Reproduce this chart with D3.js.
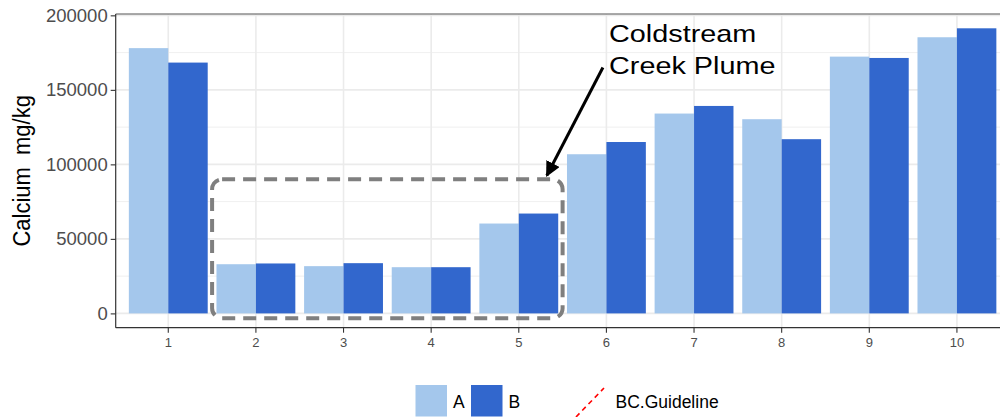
<!DOCTYPE html>
<html>
<head>
<meta charset="utf-8">
<script src="https://cdn.jsdelivr.net/npm/d3@7"></script>
<style>
  html, body { margin: 0; padding: 0; background: #fff; }
  svg { display: block; font-family: "Liberation Sans", Arial, sans-serif; }
</style>
</head>
<body>
<svg id="chart" width="1000" height="417"></svg>
<script>
// ---- data ----
const categories = ["1", "2", "3", "4", "5", "6", "7", "8", "9", "10"];
const seriesNames = ["A", "B"];
const valuesA = [178000, 33000, 31700, 31000, 60300, 106800, 134100, 130300, 172300, 185300];
const valuesB = [168300, 33500, 33700, 31000, 67000, 115000, 139200, 116900, 171400, 191300];
const yTicks = [0, 50000, 100000, 150000, 200000];
const yMinorTicks = [25000, 75000, 125000, 175000];
const seriesColors = ["#a4c7ec", "#3267cd"];
const legendExtra = "BC.Guideline";
const yTitle = "Calcium  mg/kg";
const annotationLines = ["Coldstream", "Creek Plume"];
// annotation in data units: box spans categories 2..5, arrow from label to box corner
const annoBox = { x0: 1.5, x1: 5.5, y0: -3200, y1: 90000 };
const annoArrow = { fromX: 5.96, fromY: 165000, toX: 5.32, toY: 92500 };
const annoText = { x: 6.03 };

// ---- layout ----
const svg = d3.select("#chart");
const pLeft = 115.7, pRight = 1009.5, pTop = 14, pBottom = 327.7;

const x = d3.scaleBand().domain(categories).range([pLeft, pRight])
  .paddingInner(0.1).paddingOuter(0.15);
const xSub = d3.scaleBand().domain(seriesNames).range([0, x.bandwidth()]);
// continuous position for annotations (category index -> px)
const xc = d3.scaleLinear().domain([1, 10])
  .range([x("1") + x.bandwidth() / 2, x("10") + x.bandwidth() / 2]);
const y = d3.scaleLinear().domain([-9600, 200900]).range([pBottom, pTop]);

const rows = categories.map((c, i) => ({ cat: c, A: valuesA[i], B: valuesB[i] }));

// grid
const grid = svg.append("g");
grid.selectAll(".ymin").data(yMinorTicks).join("line")
  .attr("x1", pLeft).attr("x2", pRight)
  .attr("y1", d => y(d)).attr("y2", d => y(d))
  .attr("stroke", "#ebebeb").attr("stroke-width", 0.8);
grid.selectAll(".ymaj").data(yTicks).join("line")
  .attr("x1", pLeft).attr("x2", pRight)
  .attr("y1", d => y(d)).attr("y2", d => y(d))
  .attr("stroke", "#ebebeb").attr("stroke-width", 1.6);
grid.selectAll(".xmaj").data(categories).join("line")
  .attr("x1", d => x(d) + x.bandwidth() / 2).attr("x2", d => x(d) + x.bandwidth() / 2)
  .attr("y1", pTop).attr("y2", pBottom)
  .attr("stroke", "#ebebeb").attr("stroke-width", 1.6);

// bars
const barG = svg.append("g");
rows.forEach(r => {
  seriesNames.forEach((s, si) => {
    barG.append("rect")
      .attr("x", x(r.cat) + xSub(s))
      .attr("width", xSub.bandwidth())
      .attr("y", y(r[s]))
      .attr("height", y(0) - y(r[s]))
      .attr("fill", seriesColors[si]);
  });
});

// panel border (top) and axes
svg.append("line").attr("x1", pLeft).attr("x2", pRight).attr("y1", pTop).attr("y2", pTop)
  .attr("stroke", "#555").attr("stroke-width", 1.2);
svg.append("line").attr("x1", pLeft).attr("x2", pLeft).attr("y1", pTop).attr("y2", pBottom)
  .attr("stroke", "#333").attr("stroke-width", 1.2);
svg.append("line").attr("x1", pLeft).attr("x2", pRight).attr("y1", pBottom).attr("y2", pBottom)
  .attr("stroke", "#333").attr("stroke-width", 1.2);

const yAxis = svg.append("g").attr("transform", `translate(${pLeft},0)`)
  .call(d3.axisLeft(y).tickValues(yTicks).tickFormat(d3.format("d")).tickSize(5).tickPadding(3));
yAxis.select(".domain").remove();
yAxis.selectAll("line").attr("stroke", "#333").attr("stroke-width", 1.1);
yAxis.selectAll("text").attr("fill", "#4d4d4d").style("font-size", "18.5px")
  .style("font-family", "Liberation Sans, Arial, sans-serif");

const xAxis = svg.append("g").attr("transform", `translate(0,${pBottom})`)
  .call(d3.axisBottom(x).tickSize(5).tickPadding(5));
xAxis.select(".domain").remove();
xAxis.selectAll("line").attr("stroke", "#333").attr("stroke-width", 1.1);
xAxis.selectAll("text").attr("fill", "#4d4d4d").style("font-size", "13px")
  .style("font-family", "Liberation Sans, Arial, sans-serif");

// y title
svg.append("text")
  .attr("transform", `translate(30,${(pTop + pBottom) / 2}) rotate(-90) scale(1,1.12)`)
  .attr("text-anchor", "middle")
  .style("white-space", "pre")
  .attr("xml:space", "preserve")
  .style("font-size", "22px").attr("fill", "#000")
  .text(yTitle);

// annotation box
svg.append("rect")
  .attr("x", xc(annoBox.x0)).attr("y", y(annoBox.y1))
  .attr("width", xc(annoBox.x1) - xc(annoBox.x0))
  .attr("height", y(annoBox.y0) - y(annoBox.y1))
  .attr("rx", 10).attr("ry", 10)
  .attr("fill", "none").attr("stroke", "#7f7f7f")
  .attr("stroke-width", 4).attr("stroke-dasharray", "13,8");

// arrow
svg.append("defs").append("marker")
  .attr("id", "arrowhead").attr("viewBox", "0 0 10 10")
  .attr("refX", 9).attr("refY", 5)
  .attr("markerWidth", 5).attr("markerHeight", 5)
  .attr("markerUnits", "strokeWidth")
  .attr("orient", "auto")
  .append("path").attr("d", "M0,0 L10,5 L0,10 Z").attr("fill", "#000");
svg.append("line")
  .attr("x1", xc(annoArrow.fromX)).attr("y1", y(annoArrow.fromY))
  .attr("x2", xc(annoArrow.toX)).attr("y2", y(annoArrow.toY))
  .attr("stroke", "#000").attr("stroke-width", 3)
  .attr("marker-end", "url(#arrowhead)");

// annotation text (source image is horizontally stretched)
const at = svg.append("text")
  .attr("transform", `translate(${xc(annoText.x)},41.5) scale(1.2,1)`)
  .style("font-size", "24px").attr("fill", "#000");
annotationLines.forEach((l, i) => {
  at.append("tspan").attr("x", 0).attr("dy", i === 0 ? 0 : 32.5).text(l);
});

// legend
const lg = svg.append("g");
const keyY = 385, keySize = 31.5;
const keyXs = [415.5, 471];
seriesNames.forEach((s, i) => {
  lg.append("rect").attr("x", keyXs[i]).attr("y", keyY)
    .attr("width", keySize).attr("height", keySize).attr("fill", seriesColors[i]);
  lg.append("text").attr("x", keyXs[i] + keySize + 6).attr("y", 407.5)
    .style("font-size", "17.5px").attr("fill", "#000").text(s);
});
lg.append("line").attr("x1", 576).attr("y1", 417).attr("x2", 604).attr("y2", 388)
  .attr("stroke", "#ff0000").attr("stroke-width", 1.6).attr("stroke-dasharray", "5,4");
lg.append("text").attr("x", 615.5).attr("y", 407.5)
  .style("font-size", "17.5px").attr("fill", "#000").text(legendExtra);
</script>
</body>
</html>
